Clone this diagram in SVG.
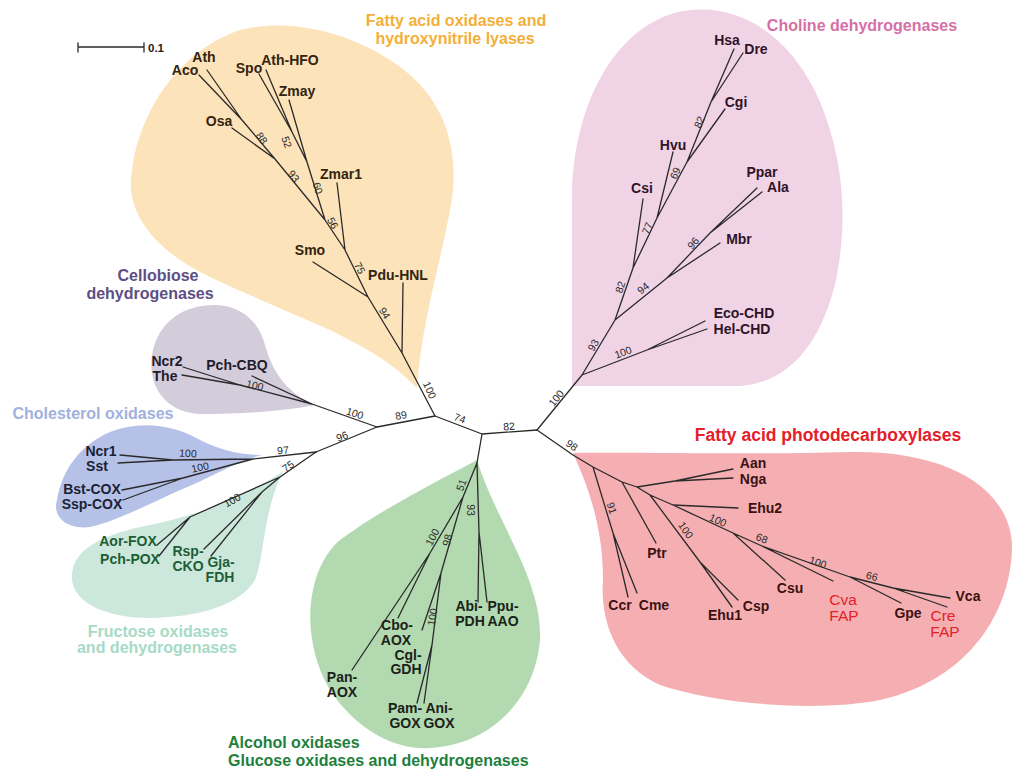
<svg xmlns="http://www.w3.org/2000/svg" width="1017" height="778" viewBox="0 0 1017 778">
<style>
.br{stroke:#2a2a2a;stroke-width:1.3;fill:none;stroke-linecap:round;stroke-linejoin:round}
.lb{font-family:"Liberation Sans",Arial,sans-serif;font-weight:bold;font-size:14px;text-anchor:middle}
.bs{font-family:"Liberation Sans",Arial,sans-serif;font-size:10.5px;fill:#2a2a2a;text-anchor:middle}
.tt{font-family:"Liberation Sans",Arial,sans-serif;font-weight:bold;font-size:16px;text-anchor:middle}
.fa{fill:#33240f}.ce{fill:#1f1b2b}.co{fill:#1b1f33}.fr{fill:#1d5e35}.gr{fill:#1a221a}.ch{fill:#2e1429}.fp{fill:#3b1212}
.red{font-family:"Liberation Sans",Arial,sans-serif;font-size:15.5px;fill:#e3202a;text-anchor:middle}
</style>
<rect width="1017" height="778" fill="#ffffff"/>
<!-- clade regions -->
<g id="clade-fatty-acid-oxidases">
<path d="M417,388 C390,360 360,345 330,330 C290,312 240,292 200,272 C150,245 125,210 132,170 C140,110 180,50 240,30 C300,15 370,40 410,75 C450,110 460,160 450,210 C440,265 422,320 417,388 Z" fill="#fde3ba"/>
<text class="tt" x="456" y="26" fill="#f3af38">Fatty acid oxidases and</text>
<text class="tt" x="455" y="44" fill="#f3af38">hydroxynitrile lyases</text>
</g>
<g id="clade-choline">
<path d="M572,386 L572,200 C572,100 620,18 690,10 C760,4 810,60 830,130 C845,180 846,230 836,280 C822,340 792,382 740,386 Z" fill="#f1d3e6"/>
<text class="tt" x="862" y="31" fill="#d56fa6">Choline dehydrogenases</text>
</g>
<g id="clade-cellobiose">
<path d="M315,405 C290,410 250,414 200,414 C160,412 148,380 152,355 C158,320 185,305 215,305 C245,306 260,325 265,345 C272,370 285,392 315,405 Z" fill="#d2ccdb"/>
<text class="tt" x="158" y="281" fill="#5d4e84">Cellobiose</text>
<text class="tt" x="150" y="299" fill="#5d4e84">dehydrogenases</text>
</g>
<g id="clade-cholesterol">
<path d="M262,455 C235,462 210,478 185,488 C150,503 120,520 90,527 C65,530 52,515 57,500 C62,470 80,445 110,432 C140,420 175,425 200,440 C220,450 240,455 262,455 Z" fill="#b6c1e8"/>
<text class="tt" x="93" y="419" fill="#9fb1de">Cholesterol oxidases</text>
</g>
<g id="clade-fructose">
<path d="M283,471 C250,495 200,515 150,525 C100,535 70,550 72,580 C75,605 110,618 150,618 C200,617 240,605 255,580 C265,555 262,515 283,471 Z" fill="#cce8dc"/>
<text class="tt" x="158" y="637" fill="#a6dac6">Fructose oxidases</text>
<text class="tt" x="157" y="653" fill="#a6dac6">and dehydrogenases</text>
</g>
<g id="clade-alcohol-glucose">
<path d="M477,460 C440,480 380,510 340,540 C305,570 300,640 330,690 C360,735 400,750 430,748 C490,745 535,700 540,640 C543,580 495,520 477,460 Z" fill="#b3d9b0"/>
<text class="tt" x="228" y="748" fill="#1e7f3c" style="text-anchor:start">Alcohol oxidases</text>
<text class="tt" x="228" y="766" fill="#1e7f3c" style="text-anchor:start">Glucose oxidases and dehydrogenases</text>
</g>
<g id="clade-fap">
<path d="M573,453 C650,452 750,455 850,452 C950,450 1010,490 1012,545 C1012,610 970,680 880,700 C820,712 720,705 660,685 C615,665 600,620 603,580 C603,530 590,490 573,453 Z" fill="#f5afb2"/>
<text class="tt" x="828" y="441" fill="#e3202a" style="font-size:17.5px">Fatty acid photodecarboxylases</text>
</g>
<!-- scale bar -->
<g id="scale-bar">
<path class="br" d="M78,47 L144,47 M78,43 L78,52 M144,43 L144,52" stroke="#555"/>
<text x="148" y="52" style="font-family:'Liberation Sans',Arial,sans-serif;font-weight:bold;font-size:11.5px" fill="#222">0.1</text>
</g>
<!-- connectors -->
<g id="connectors">
<path class="br" d="M435,416 L402,353 L368,297 L345,250 L325,220 L275,159 L242,120 L199,75 M242,120 L207,70 M275,159 L232,128 M325,220 L307,162 L292,132 L259,74 M292,132 L266,70 M307,162 L289,100 M345,250 L337,183 M368,297 L313,262 M402,353 L403,283"/>
<path class="br" d="M377,427 L435,416 L482,434 L537,430 M377,427 L316,452 M482,434 L477,463"/>
<path class="br" d="M377,427 L312,404 L240,385 L183,367 M240,385 L182,375 M312,404 L252,376"/>
<path class="br" d="M316,452 L253,459 L173,460 L120,455 M173,460 L118,463 M253,459 L183,478 L122,490 M183,478 L123,500"/>
<path class="br" d="M316,452 L280,477 L190,517 L157,545 M190,517 L159,556 M280,477 L262,492 L204,549 M262,492 L211,556"/>
<path class="br" d="M477,463 L463,497 L430,553 L352,670 M430,553 L398,618 M463,497 L441,573 L422,630 M441,573 L432,645 L417,703 M432,645 L424,703 M477,463 L479,532 L478,602 M479,532 L487,602"/>
<path class="br" d="M537,430 L582,375 L615,320 L633,268 L657,218 L687,162 L711,102 L734,49 M711,102 L743,53 M687,162 L725,109 M657,218 L673,152 M633,268 L643,199 M615,320 L667,278 L720,243 M667,278 L710,233 L757,188 M710,233 L762,192 M582,375 L647,350 L705,321 M647,350 L707,329"/>
<path class="br" d="M537,430 L573,455 L593,467 L622,482 L637,487 L650,495 L673,505 L733,533 L762,546 L850,577 L893,588 L950,598 M893,588 L947,607 M850,577 L901,603 M762,546 L833,581 M733,533 L785,580 M673,505 L738,508 M650,495 L700,562 L732,607 M700,562 L738,600 M637,487 L675,481 L733,469 M675,481 L733,478 M622,482 L656,543 M593,467 L613,533 L628,597 M613,533 L637,593"/>
<!-- bootstrap values -->
<g class="bs">
<text transform="translate(262,138) rotate(55)" y="4">88</text>
<text transform="translate(287,142) rotate(70)" y="4">52</text>
<text transform="translate(294,176) rotate(52)" y="4">93</text>
<text transform="translate(318,188) rotate(72)" y="4">60</text>
<text transform="translate(333,223) rotate(62)" y="4">56</text>
<text transform="translate(360,268) rotate(62)" y="4">75</text>
<text transform="translate(385,313) rotate(58)" y="4">94</text>
<text transform="translate(430,390) rotate(66)" y="4">100</text>
<text transform="translate(401,415) rotate(-11)" y="4">89</text>
<text transform="translate(355,413) rotate(17)" y="4">100</text>
<text transform="translate(342,436) rotate(-22)" y="4">96</text>
<text transform="translate(283,450) rotate(-6)" y="4">97</text>
<text transform="translate(288,466) rotate(-35)" y="4">75</text>
<text transform="translate(460,418) rotate(21)" y="4">74</text>
<text transform="translate(509,426) rotate(-4)" y="4">82</text>
<text transform="translate(556,398) rotate(-52)" y="4">100</text>
<text transform="translate(572,445) rotate(35)" y="4">98</text>
<text transform="translate(461,485) rotate(-70)" y="4">51</text>
<text transform="translate(471,510) rotate(90)" y="4">93</text>
<text transform="translate(432,537) rotate(-62)" y="4">100</text>
<text transform="translate(447,540) rotate(-75)" y="4">98</text>
<text transform="translate(432,617) rotate(-80)" y="4">100</text>
<text transform="translate(255,385) rotate(14)" y="4">100</text>
<text transform="translate(188,453) rotate(3)" y="4">100</text>
<text transform="translate(200,467) rotate(-12)" y="4">100</text>
<text transform="translate(232,500) rotate(-30)" y="4">100</text>
<text transform="translate(593,345) rotate(-60)" y="4">93</text>
<text transform="translate(623,352) rotate(-20)" y="4">100</text>
<text transform="translate(643,288) rotate(-40)" y="4">94</text>
<text transform="translate(620,287) rotate(-72)" y="4">82</text>
<text transform="translate(647,228) rotate(-68)" y="4">77</text>
<text transform="translate(693,243) rotate(-50)" y="4">96</text>
<text transform="translate(675,173) rotate(-65)" y="4">69</text>
<text transform="translate(699,122) rotate(-65)" y="4">82</text>
<text transform="translate(612,508) rotate(72)" y="4">91</text>
<text transform="translate(686,530) rotate(55)" y="4">100</text>
<text transform="translate(718,520) rotate(25)" y="4">100</text>
<text transform="translate(762,538) rotate(22)" y="4">68</text>
<text transform="translate(818,562) rotate(18)" y="4">100</text>
<text transform="translate(872,576) rotate(15)" y="4">66</text>
</g>
</g>
<!-- leaf nodes -->
<g class="lb">
<g id="n-aco"><text class="fa" x="185" y="75">Aco</text></g>
<g id="n-ath"><text class="fa" x="204" y="62">Ath</text></g>
<g id="n-spo"><text class="fa" x="249" y="73">Spo</text></g>
<g id="n-ath-hfo"><text class="fa" x="290" y="65">Ath-HFO</text></g>
<g id="n-zmay"><text class="fa" x="297" y="96">Zmay</text></g>
<g id="n-osa"><text class="fa" x="219" y="126">Osa</text></g>
<g id="n-zmar1"><text class="fa" x="341" y="179">Zmar1</text></g>
<g id="n-smo"><text class="fa" x="310" y="255">Smo</text></g>
<g id="n-pdu-hnl"><text class="fa" x="398" y="280">Pdu-HNL</text></g>

<g id="n-ncr2"><text class="ce" x="167" y="366">Ncr2</text></g>
<g id="n-the"><text class="ce" x="165" y="381">The</text></g>
<g id="n-pch-cbq"><text class="ce" x="237" y="370">Pch-CBQ</text></g>

<g id="n-ncr1"><text class="co" x="101" y="456">Ncr1</text></g>
<g id="n-sst"><text class="co" x="97" y="471">Sst</text></g>
<g id="n-bst-cox"><text class="co" x="92" y="494">Bst-COX</text></g>
<g id="n-ssp-cox"><text class="co" x="92" y="509">Ssp-COX</text></g>

<g id="n-aor-fox"><text class="fr" x="128" y="546">Aor-FOX</text></g>
<g id="n-pch-pox"><text class="fr" x="130" y="564">Pch-POX</text></g>
<g id="n-rsp-cko"><text class="fr" x="188" y="556">Rsp-</text><text class="fr" x="188" y="571">CKO</text></g>
<g id="n-gja-fdh"><text class="fr" x="221" y="567">Gja-</text><text class="fr" x="220" y="582">FDH</text></g>

<g id="n-pan-aox"><text class="gr" x="342" y="682">Pan-</text><text class="gr" x="342" y="697">AOX</text></g>
<g id="n-cbo-aox"><text class="gr" x="397" y="630">Cbo-</text><text class="gr" x="396" y="645">AOX</text></g>
<g id="n-cgl-gdh"><text class="gr" x="408" y="660">Cgl-</text><text class="gr" x="406" y="674">GDH</text></g>
<g id="n-pam-gox"><text class="gr" x="405" y="713">Pam-</text><text class="gr" x="405" y="728">GOX</text></g>
<g id="n-ani-gox"><text class="gr" x="439" y="713">Ani-</text><text class="gr" x="439" y="728">GOX</text></g>
<g id="n-abi-pdh"><text class="gr" x="469" y="611">Abi-</text><text class="gr" x="470" y="626">PDH</text></g>
<g id="n-ppu-aao"><text class="gr" x="503" y="611">Ppu-</text><text class="gr" x="503" y="626">AAO</text></g>

<g id="n-hsa"><text class="ch" x="727" y="45">Hsa</text></g>
<g id="n-dre"><text class="ch" x="756" y="54">Dre</text></g>
<g id="n-cgi"><text class="ch" x="736" y="107">Cgi</text></g>
<g id="n-hvu"><text class="ch" x="673" y="150">Hvu</text></g>
<g id="n-csi"><text class="ch" x="642" y="193">Csi</text></g>
<g id="n-ppar"><text class="ch" x="762" y="177">Ppar</text></g>
<g id="n-ala"><text class="ch" x="778" y="192">Ala</text></g>
<g id="n-mbr"><text class="ch" x="739" y="244">Mbr</text></g>
<g id="n-eco-chd"><text class="ch" x="744" y="318">Eco-CHD</text></g>
<g id="n-hel-chd"><text class="ch" x="742" y="334">Hel-CHD</text></g>

<g id="n-aan"><text class="fp" x="753" y="468">Aan</text></g>
<g id="n-nga"><text class="fp" x="753" y="484">Nga</text></g>
<g id="n-ehu2"><text class="fp" x="765" y="513">Ehu2</text></g>
<g id="n-ptr"><text class="fp" x="657" y="558">Ptr</text></g>
<g id="n-ccr"><text class="fp" x="620" y="610">Ccr</text></g>
<g id="n-cme"><text class="fp" x="654" y="610">Cme</text></g>
<g id="n-ehu1"><text class="fp" x="725" y="620">Ehu1</text></g>
<g id="n-csp"><text class="fp" x="756" y="611">Csp</text></g>
<g id="n-csu"><text class="fp" x="790" y="593">Csu</text></g>
<g id="n-gpe"><text class="fp" x="908" y="618">Gpe</text></g>
<g id="n-vca"><text class="fp" x="968" y="601">Vca</text></g>
</g>
<g id="n-cva-fap"><text class="red" x="843" y="605">Cva</text><text class="red" x="844" y="621">FAP</text></g>
<g id="n-cre-fap"><text class="red" x="943" y="621">Cre</text><text class="red" x="945" y="637">FAP</text></g>
</svg>
